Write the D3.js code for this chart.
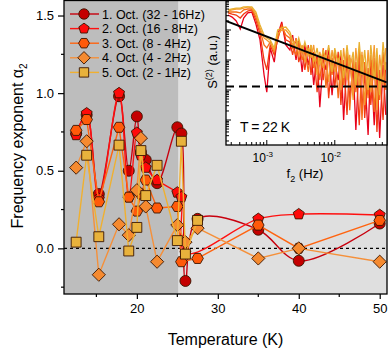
<!DOCTYPE html>
<html>
<head>
<meta charset="utf-8">
<script src="https://cdn.jsdelivr.net/npm/d3@7"></script>
<style>
  body { margin: 0; background: #fff; }
  svg { font-family: "Liberation Sans", Arial, sans-serif; display: block; }
</style>
</head>
<body>
<svg id="chart" width="390" height="353"></svg>
<script>
    // main panel data: alpha2 vs temperature, one array per octave
    var temps = [12.5, 13.8, 15.3, 17.8, 19.0, 20.0, 20.5, 21.1, 22.5, 25.0, 25.5, 26.0, 27.5, 35, 40, 50];
    var oct1 = [0.74, 0.86, 0.35, 0.98, 0.50, 0.85, 0.62, 0.57, 0.42, 0.78, 0.74, -0.21, 0.19, 0.12, -0.08, 0.16];
    var oct2 = [0.73, 0.87, 0.32, 1.00, 0.33, 0.745, 0.60, 0.52, 0.44, 0.36, 0.33, -0.03, null, 0.19, 0.22, 0.215];
    var oct3 = [0.76, 0.83, 0.30, 0.78, 0.33, 0.24, 0.35, 0.44, 0.26, 0.27, -0.086, null, -0.065, 0.15, 0.0, 0.18];
    var oct4 = [0.52, 0.69, -0.17, 0.155, 0.085, 0.375, 0.71, 0.27, -0.086, 0.15, null, 0.04, 0.13, -0.065, 0.0, -0.086];
    var oct5 = [0.04, 0.60, 0.075, 0.665, -0.017, 0.135, 0.63, 0.34, 0.535, 0.05, 0.69, -0.037, 0.18, null, null, null];
    var octNames = ["1. Oct. (32 - 16Hz)", "2. Oct. (16 - 8Hz)", "3. Oct. (8 - 4Hz)", "4. Oct. (4 - 2Hz)", "5. Oct. (2 - 1Hz)"];

    // inset data: second spectrum at T = 22 K, log10 values
    var logF = [-3.57, -3.51, -3.45, -3.39, -3.34, -3.28, -3.22, -3.16, -3.10, -3.04, -3.00, -2.95, -2.89, -2.84, -2.78, -2.72,
        -2.66, -2.62, -2.57, -2.53, -2.48, -2.44, -2.39, -2.35, -2.31, -2.26, -2.22, -2.17, -2.13, -2.09, -2.04, -2.00,
        -1.95, -1.91, -1.87, -1.82, -1.78, -1.73, -1.69, -1.64, -1.60, -1.56, -1.51, -1.47, -1.42, -1.38, -1.34, -1.29, -1.25];
    var logS1 = [-0.50, -0.57, -0.70, -0.97, -0.60, -0.43, -0.40, -0.80, -1.33, -2.50, -3.07, -1.60, -2.07, -1.17, -0.73, -1.50,
        -1.67, -1.17, -2.00, -1.33, -2.40, -1.50, -2.17, -1.67, -2.83, -1.83, -3.57, -1.93, -2.33, -1.60, -3.17, -2.07,
        -2.67, -1.83, -4.00, -2.00, -3.33, -2.17, -4.33, -1.93, -3.67, -2.40, -4.50, -2.00, -4.17, -2.33, -4.60, -2.17, -3.83];
    var logS2 = [-0.43, -0.47, -0.50, -0.60, -0.47, -0.37, -0.33, -0.67, -1.13, -2.00, -2.33, -1.50, -1.83, -1.33, -0.80, -1.33,
        -1.40, -1.83, -1.27, -2.07, -1.60, -2.33, -1.50, -2.50, -1.73, -3.07, -1.83, -2.67, -1.67, -3.27, -1.93, -2.93,
        -1.73, -3.50, -2.00, -3.83, -1.93, -3.17, -2.07, -4.17, -1.83, -3.93, -2.27, -3.50, -1.93, -4.40, -2.33, -4.00, -2.07];
    var logS3 = [-0.40, -0.40, -0.40, -0.43, -0.33, -0.30, -0.30, -0.57, -1.00, -1.50, -1.60, -1.40, -1.73, -1.27, -0.87, -1.17,
        -1.27, -1.60, -1.83, -1.40, -2.00, -1.67, -2.40, -1.50, -2.27, -1.93, -2.67, -1.60, -2.93, -1.83, -2.50, -1.67,
        -3.27, -2.00, -2.83, -1.73, -3.67, -1.93, -3.07, -1.67, -4.00, -2.07, -3.27, -1.83, -3.73, -1.93, -3.33, -1.73, -3.00];
    var logS4 = [-0.37, -0.33, -0.30, -0.30, -0.27, -0.23, -0.27, -0.47, -0.93, -1.27, -1.33, -1.43, -1.67, -1.13, -1.00, -1.00,
        -1.17, -1.50, -1.33, -1.83, -1.50, -2.07, -1.60, -1.93, -1.50, -2.50, -1.73, -2.27, -1.83, -2.73, -1.67, -2.40,
        -1.93, -3.00, -1.60, -2.67, -1.83, -3.33, -1.60, -2.93, -1.73, -3.50, -1.67, -3.07, -1.50, -3.67, -1.83, -2.83, -1.60];
    var logS5 = [-0.33, -0.30, -0.27, -0.27, -0.23, -0.23, -0.23, -0.40, -0.83, -1.17, -1.27, -1.33, -1.60, -1.00, -0.93, -0.90,
        -1.07, -1.33, -1.60, -1.27, -1.73, -1.40, -1.83, -1.50, -2.07, -1.60, -2.17, -1.67, -2.00, -1.50, -2.40, -1.60,
        -2.17, -1.67, -2.60, -1.50, -2.33, -1.73, -2.83, -1.40, -2.50, -1.67, -3.00, -1.50, -2.67, -1.60, -3.17, -1.40, -2.33];
    var fitF = [2.5e-4, 0.058];         // power-law fit end points
    var fitS = [0.20, 0.0018];
    var floorS = 0.0013;                // background level (dashed)

    var svg = d3.select("#chart");
    var margin = {top: 0, left: 64, right: 3, bottom: 59};
    var W = +svg.attr("width"), H = +svg.attr("height");

    var x = d3.scaleLinear().domain([11, 50.9]).range([margin.left, W - margin.right]);
    var y = d3.scaleLinear().domain([-0.294, 1.6]).range([H - margin.bottom, margin.top]);

    var lineCol = ["#c8000e", "#ff1010", "#ff6410", "#f5903a", "#f0b030"];
    var fillCol = ["#c40000", "#ff0a0a", "#ff5a0a", "#f58a30", "#e8b23c"];
    var shapes = ["circle", "pentagon", "hexagon", "diamond", "square"];
    var series = [oct1, oct2, oct3, oct4, oct5];

    // shaded backgrounds
    svg.append("rect").attr("x", x(11)).attr("y", y(1.6))
        .attr("width", x(50.9) - x(11)).attr("height", y(-0.294) - y(1.6))
        .attr("fill", "#dfdfdf");
    svg.append("rect").attr("x", x(11)).attr("y", y(1.6))
        .attr("width", x(25.1) - x(11)).attr("height", y(-0.294) - y(1.6))
        .attr("fill", "#bdbdbd");

    // zero line
    svg.append("line").attr("x1", x(11)).attr("x2", x(50.9))
        .attr("y1", y(0)).attr("y2", y(0))
        .attr("stroke", "#000").attr("stroke-width", 1.3).attr("stroke-dasharray", "3,3");

    function markerPath(shape, r) {
        if (shape === "circle") return d3.symbol(d3.symbolCircle, Math.PI * r * r)();
        if (shape === "square") { var s = r * 0.9; return "M" + -s + "," + -s + "H" + s + "V" + s + "H" + -s + "Z"; }
        var n = shape === "pentagon" ? 5 : shape === "hexagon" ? 6 : 4;
        var rr = shape === "diamond" ? r * 1.2 : r * 1.05;
        var off = shape === "hexagon" ? 0 : -Math.PI / 2;
        var pts = d3.range(n).map(function(k) {
            var a = off + k * 2 * Math.PI / n;
            return [rr * Math.cos(a), rr * Math.sin(a)];
        });
        return "M" + pts.join("L") + "Z";
    }

    var plotArea = svg.append("g");
    series.forEach(function(vals, i) {
        var pts = temps.map(function(t, j) { return {t: t, v: vals[j]}; })
            .filter(function(d) { return d.v !== null; });
        var line = d3.line()
            .x(function(d) { return x(d.t); })
            .y(function(d) { return y(d.v); })
            .curve(i < 2 ? d3.curveCatmullRom.alpha(0.5) : d3.curveLinear);
        plotArea.append("path").datum(pts)
            .attr("d", line)
            .attr("fill", "none")
            .attr("stroke", lineCol[i])
            .attr("stroke-width", 1.4);
        plotArea.selectAll(".m" + i).data(pts).enter()
            .append("path")
            .attr("class", "m" + i)
            .attr("transform", function(d) { return "translate(" + x(d.t) + "," + y(d.v) + ")"; })
            .attr("d", markerPath(shapes[i], 5.5))
            .attr("fill", fillCol[i])
            .attr("stroke", "#3a1500")
            .attr("stroke-width", 0.9);
    });

    // axes
    var xAxis = d3.axisBottom(x).tickValues([20, 30, 40, 50]).tickSize(5).tickSizeOuter(0).tickPadding(5);
    var gx = svg.append("g").attr("transform", "translate(0," + y(-0.294) + ")").call(xAxis);
    gx.select(".domain").remove();
    gx.selectAll("text").attr("font-size", 13).attr("fill", "#000").attr("font-family", "Liberation Sans, Arial, sans-serif");
    gx.selectAll("line").attr("stroke-width", 1.2);
    [15, 25, 35, 45].forEach(function(t) {
        svg.append("line").attr("x1", x(t)).attr("x2", x(t))
            .attr("y1", y(-0.294)).attr("y2", y(-0.294) + 3)
            .attr("stroke", "#000").attr("stroke-width", 1.2);
    });

    var yAxis = d3.axisLeft(y).tickValues([0, 0.5, 1.0, 1.5]).tickFormat(d3.format(".1f"))
        .tickSize(6).tickSizeOuter(0).tickPadding(4);
    var gy = svg.append("g").attr("transform", "translate(" + x(11) + ",0)").call(yAxis);
    gy.select(".domain").remove();
    gy.selectAll("text").attr("font-size", 13).attr("fill", "#000").attr("font-family", "Liberation Sans, Arial, sans-serif");
    gy.selectAll("line").attr("stroke-width", 1.2);
    [-0.25, 0.25, 0.75, 1.25].forEach(function(v) {
        svg.append("line").attr("x1", x(11) - 3).attr("x2", x(11))
            .attr("y1", y(v)).attr("y2", y(v))
            .attr("stroke", "#000").attr("stroke-width", 1.2);
    });

    svg.append("rect").attr("x", x(11)).attr("y", y(1.6) + 0.5)
        .attr("width", x(50.9) - x(11)).attr("height", y(-0.294) - y(1.6) - 0.5)
        .attr("fill", "none").attr("stroke", "#000").attr("stroke-width", 1.3);

    svg.append("text").attr("x", (x(11) + x(50.9)) / 2).attr("y", 345)
        .attr("text-anchor", "middle").attr("font-size", 16).text("Temperature (K)");
    var yl = svg.append("text").attr("transform", "translate(23," + y(0.66) + ") rotate(-90)")
        .attr("text-anchor", "middle").attr("font-size", 16);
    yl.append("tspan").text("Frequency exponent \u03b1");
    yl.append("tspan").attr("font-size", 10).attr("dy", 4).text("2");

    // legend
    var legend = svg.append("g");
    octNames.forEach(function(name, i) {
        var ly = 14 + i * 14.6;
        legend.append("line").attr("x1", 70).attr("x2", 99).attr("y1", ly).attr("y2", ly)
            .attr("stroke", lineCol[i]).attr("stroke-width", 1.4);
        legend.append("path").attr("transform", "translate(84," + ly + ")")
            .attr("d", markerPath(shapes[i], 5.2))
            .attr("fill", fillCol[i]).attr("stroke", "#3a1500").attr("stroke-width", 0.9);
        legend.append("text").attr("x", 102).attr("y", ly + 4.5)
            .attr("font-size", 12.5).text(name);
    });

    // inset spectrum
    var ix = d3.scaleLog().domain([Math.pow(10, -3.6), Math.pow(10, -1.232)]).range([226, 387]);
    var iy = d3.scaleLog().domain([Math.pow(10, -4.833), 1]).range([145, 0]);
    var inset = svg.append("g");
    inset.append("rect").attr("x", 226).attr("y", 0).attr("width", 161).attr("height", 145).attr("fill", "#fff");
    inset.append("clipPath").attr("id", "iclip").append("rect")
        .attr("x", 226).attr("y", 0).attr("width", 161).attr("height", 145);
    var spec = inset.append("g").attr("clip-path", "url(#iclip)");
    var specCol = ["#e8001a", "#f23a12", "#f56c18", "#f59a30", "#e8b030"];
    [logS1, logS2, logS3, logS4, logS5].forEach(function(ls, i) {
        var line = d3.line()
            .x(function(d, j) { return ix(Math.pow(10, logF[j])); })
            .y(function(d) { return iy(Math.pow(10, d)); });
        spec.append("path").datum(ls).attr("d", line)
            .attr("fill", "none").attr("stroke", specCol[i]).attr("stroke-width", 1.3);
    });
    spec.append("line").attr("x1", ix(fitF[0])).attr("x2", ix(fitF[1]))
        .attr("y1", iy(fitS[0])).attr("y2", iy(fitS[1]))
        .attr("stroke", "#000").attr("stroke-width", 2);
    spec.append("line").attr("x1", 226).attr("x2", 387)
        .attr("y1", iy(floorS)).attr("y2", iy(floorS))
        .attr("stroke", "#000").attr("stroke-width", 2).attr("stroke-dasharray", "8,5");

    // inset ticks (inside)
    var fTicks = [];
    [1e-4, 1e-3, 1e-2].forEach(function(dec) {
        for (var k = 1; k < 10; k++) fTicks.push(dec * k);
    });
    fTicks.filter(function(f) { return f >= ix.domain()[0] && f <= ix.domain()[1]; }).forEach(function(f) {
        var major = Math.abs(Math.log10(f) - Math.round(Math.log10(f))) < 1e-6;
        inset.append("line").attr("x1", ix(f)).attr("x2", ix(f))
            .attr("y1", 145).attr("y2", 145 - (major ? 5 : 3))
            .attr("stroke", "#000").attr("stroke-width", 1);
    });
    for (var e = -5; e <= 0; e++) {
        for (var k = 1; k < 10; k++) {
            var s = k * Math.pow(10, e);
            if (s < iy.domain()[0] || s > 1) continue;
            inset.append("line").attr("x1", 226).attr("x2", 226 + (k === 1 ? 5 : 3))
                .attr("y1", iy(s)).attr("y2", iy(s))
                .attr("stroke", "#000").attr("stroke-width", 1);
        }
    }
    inset.append("rect").attr("x", 226).attr("y", 0.5).attr("width", 161).attr("height", 144.5)
        .attr("fill", "none").attr("stroke", "#000").attr("stroke-width", 1.3);

    [1e-3, 1e-2].forEach(function(f) {
        var t = inset.append("text").attr("x", ix(f) - 4).attr("y", 162)
            .attr("text-anchor", "middle").attr("font-size", 12);
        t.append("tspan").text("10");
        t.append("tspan").attr("font-size", 8).attr("dy", -5).text("-" + Math.round(-Math.log10(f)));
    });
    var fl = inset.append("text").attr("x", 305).attr("y", 178).attr("text-anchor", "middle").attr("font-size", 13);
    fl.append("tspan").text("f");
    fl.append("tspan").attr("font-size", 9).attr("dy", 4).text("2");
    fl.append("tspan").attr("dy", -4).text(" (Hz)");

    var sl = inset.append("text").attr("transform", "translate(217,62) rotate(-90)")
        .attr("text-anchor", "middle").attr("font-size", 13);
    sl.append("tspan").text("S");
    sl.append("tspan").attr("font-size", 9).attr("dy", -5).text("(2)");
    sl.append("tspan").attr("dy", 5).text(" (a.u.)");

    inset.append("text").attr("x", 240).attr("y", 132).attr("font-size", 14).text("T\u2009=\u200922\u2009K");
</script>
</body>
</html>
